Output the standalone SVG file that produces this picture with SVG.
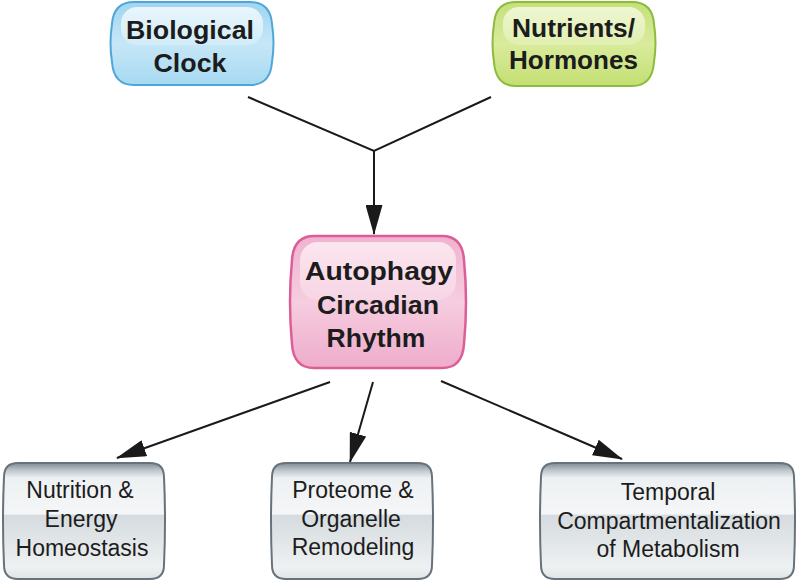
<svg xmlns="http://www.w3.org/2000/svg" width="800" height="581" viewBox="0 0 800 581">
<defs>
  <linearGradient id="gBlue" x1="0" y1="0" x2="0" y2="1">
    <stop offset="0" stop-color="#9fd4f1"/>
    <stop offset="0.5" stop-color="#c6e7f7"/>
    <stop offset="1" stop-color="#a6d9f2"/>
  </linearGradient>
  <linearGradient id="hBlue" x1="0" y1="0" x2="0" y2="1">
    <stop offset="0" stop-color="#f0f9fd"/>
    <stop offset="1" stop-color="#d3edf9"/>
  </linearGradient>
  <linearGradient id="gGreen" x1="0" y1="0" x2="0" y2="1">
    <stop offset="0" stop-color="#c5e07a"/>
    <stop offset="0.5" stop-color="#d9eb9c"/>
    <stop offset="1" stop-color="#c4df72"/>
  </linearGradient>
  <linearGradient id="hGreen" x1="0" y1="0" x2="0" y2="1">
    <stop offset="0" stop-color="#f3f9dc"/>
    <stop offset="1" stop-color="#e1efb2"/>
  </linearGradient>
  <linearGradient id="gPink" x1="0" y1="0" x2="0" y2="1">
    <stop offset="0" stop-color="#f0b3cf"/>
    <stop offset="0.5" stop-color="#f6cde0"/>
    <stop offset="1" stop-color="#eeaccb"/>
  </linearGradient>
  <linearGradient id="hPink" x1="0" y1="0" x2="0" y2="1">
    <stop offset="0" stop-color="#fcebf2"/>
    <stop offset="1" stop-color="#f7d6e5"/>
  </linearGradient>
  <linearGradient id="gGray" x1="0" y1="0" x2="0" y2="1">
    <stop offset="0" stop-color="#7f8b93"/>
    <stop offset="0.07" stop-color="#c3cbd0"/>
    <stop offset="0.13" stop-color="#eef1f3"/>
    <stop offset="0.44" stop-color="#f4f6f7"/>
    <stop offset="0.45" stop-color="#d5dbdf"/>
    <stop offset="0.9" stop-color="#eef1f2"/>
    <stop offset="1" stop-color="#dfe4e7"/>
  </linearGradient>
  <marker id="arrow" viewBox="0 0 30 17" markerWidth="30" markerHeight="17" refX="29" refY="8.5" orient="auto" markerUnits="userSpaceOnUse">
    <path d="M0,0 L30,8.5 L0,17 Z" fill="#1a1a1a"/>
  </marker>
</defs>
<style>
  .top { font-family: "Liberation Sans", Arial, sans-serif; font-weight: bold; font-size: 25px; fill: #1c1c1c; text-anchor: middle; }
  .bot { font-family: "Liberation Sans", Arial, sans-serif; font-size: 23px; fill: #1c1c1c; text-anchor: middle; }
  .conn { stroke: #1a1a1a; stroke-width: 2; fill: none; }
  .gray { fill: url(#gGray); stroke: #67727a; stroke-width: 2; }
</style>

<g id="connectors">
  <polyline class="conn" points="248,97 374,151 491,97"/>
  <line class="conn" x1="374" y1="151" x2="374" y2="234" marker-end="url(#arrow)"/>
  <line class="conn" x1="330" y1="382" x2="117" y2="458" marker-end="url(#arrow)"/>
  <line class="conn" x1="373" y1="382" x2="350" y2="462" marker-end="url(#arrow)"/>
  <line class="conn" x1="441" y1="381" x2="622" y2="459" marker-end="url(#arrow)"/>
</g>

<g id="biological-clock">
  <path d="M134,2 H250 C264,2 271,10 272,24 Q275,43 272,62 C271,77 264,85 250,85 H134 C120,85 113,77 112,62 Q109,43 112,24 C113,10 120,2 134,2 Z" fill="url(#gBlue)" stroke="#4fa6d8" stroke-width="2"/>
  <rect x="121" y="7" width="142" height="38" rx="16" fill="url(#hBlue)" opacity="0.9"/>
  <text class="top" x="190" y="39" textLength="128" lengthAdjust="spacingAndGlyphs">Biological</text>
  <text class="top" x="190" y="72" textLength="73" lengthAdjust="spacingAndGlyphs">Clock</text>
</g>

<g id="nutrients-hormones">
  <path d="M516,2 H632 C646,2 653,10 654,24 Q657,43 654,62 C653,77 646,86 632,86 H516 C502,86 495,77 494,62 Q491,43 494,24 C495,10 502,2 516,2 Z" fill="url(#gGreen)" stroke="#8bbc3c" stroke-width="2"/>
  <rect x="503" y="7" width="142" height="38" rx="16" fill="url(#hGreen)" opacity="0.9"/>
  <text class="top" x="573.5" y="37" textLength="123" lengthAdjust="spacingAndGlyphs">Nutrients/</text>
  <text class="top" x="573.5" y="69" textLength="129" lengthAdjust="spacingAndGlyphs">Hormones</text>
</g>

<g id="autophagy">
  <path d="M314,236 H442 C456,236 463,245 464,260 Q468,302 464,344 C463,360 456,368 442,368 H314 C300,368 293,360 292,344 Q288,302 292,260 C293,245 300,236 314,236 Z" fill="url(#gPink)" stroke="#dc5e96" stroke-width="2.5"/>
  <rect x="300" y="242" width="156" height="58" rx="18" fill="url(#hPink)" opacity="0.9"/>
  <text class="top" x="379" y="280" textLength="148" lengthAdjust="spacingAndGlyphs">Autophagy</text>
  <text class="top" x="378" y="314" textLength="122" lengthAdjust="spacingAndGlyphs">Circadian</text>
  <text class="top" x="376" y="347" textLength="99" lengthAdjust="spacingAndGlyphs">Rhythm</text>
</g>

<g id="nutrition-energy">
  <path d="M18,463 H150 C159,463 164,468 164,477 Q166,521 164,565 C164,574 159,579 150,579 H18 C9,579 4,574 4,565 Q2,521 4,477 C4,468 9,463 18,463 Z" class="gray"/>
  <text class="bot" x="80" y="498">Nutrition &amp;</text>
  <text class="bot" x="81" y="527">Energy</text>
  <text class="bot" x="82" y="556">Homeostasis</text>
</g>

<g id="proteome-organelle">
  <path d="M286,463 H418 C427,463 432,468 432,477 Q434,521 432,565 C432,574 427,579 418,579 H286 C277,579 272,574 272,565 Q270,521 272,477 C272,468 277,463 286,463 Z" class="gray"/>
  <text class="bot" x="353" y="498">Proteome &amp;</text>
  <text class="bot" x="351" y="527">Organelle</text>
  <text class="bot" x="353" y="555">Remodeling</text>
</g>

<g id="temporal-compartmentalization">
  <path d="M555,463 H780 C789,463 794,468 794,477 Q796,521 794,565 C794,574 789,579 780,579 H555 C546,579 541,574 541,565 Q539,521 541,477 C541,468 546,463 555,463 Z" class="gray"/>
  <text class="bot" x="668" y="500">Temporal</text>
  <text class="bot" x="669" y="529">Compartmentalization</text>
  <text class="bot" x="668" y="557">of Metabolism</text>
</g>
</svg>
